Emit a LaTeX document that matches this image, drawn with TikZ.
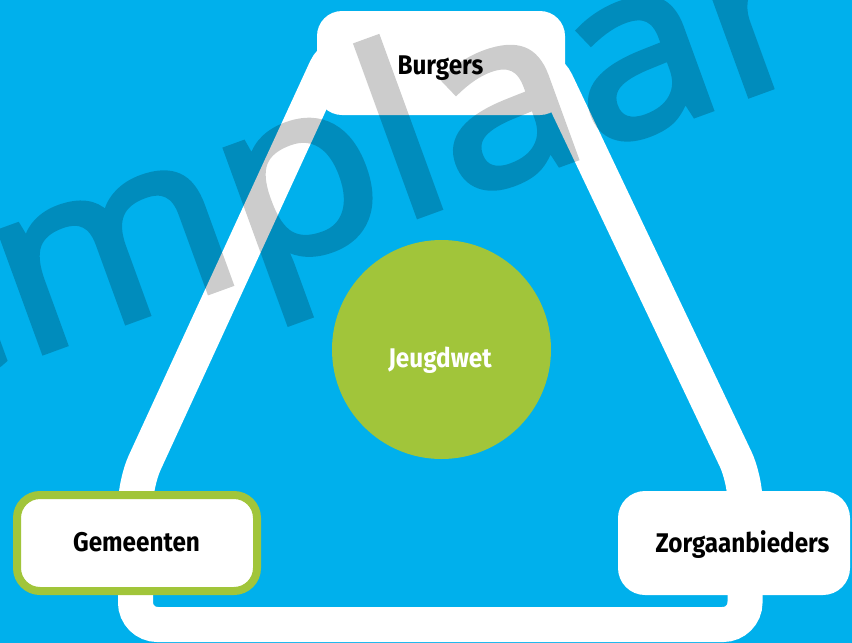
\documentclass[tikz,border=0pt]{standalone}
\usepackage{fontspec}
\newfontfamily\labelfont{Fira Sans}[FakeStretch=0.9]
\newfontfamily\wmfont{Open Sans}[FakeBold=3, FakeStretch=1.09]
\definecolor{bgblue}{RGB}{0,176,236}
\definecolor{jgreen}{RGB}{161,197,58}
\tikzset{
  labeltext/.style={anchor=base, inner sep=0pt, font=\labelfont\bfseries\fontsize{27}{30}\selectfont},
  whitebox/.style={fill=white, inner sep=0pt},
}
\begin{document}
\begin{tikzpicture}[x=1pt,y=-1pt]
\useasboundingbox (0,0) rectangle (852,643);
\clip (0,0) rectangle (852,643);
\fill[bgblue] (0,0) rectangle (852,643);
% white trapezoid
\draw[white, line width=35pt, rounded corners=22pt]
  (335,49) -- (135.5,482.6) -- (135.5,624.5) -- (745,624.5) -- (745,478.8) -- (547,62.4) -- cycle;
% boxes
\node[whitebox, rounded corners=25pt, minimum width=248pt, minimum height=104pt] (burgers) at (441,63) {};
\node[whitebox, draw=jgreen, line width=8pt, rounded corners=23pt, minimum width=240pt, minimum height=96pt] (gemeenten) at (137,543) {};
\node[whitebox, rounded corners=27pt, minimum width=232pt, minimum height=104pt] (zorg) at (734,543) {};
\node[circle, fill=jgreen, inner sep=0pt, minimum size=219pt] (jeugd) at (441.5,349.5) {};
% labels
\node[labeltext] (burgersT) at (440.5,74) {Burgers};
\node[labeltext] (gemeentenT) at (136.5,551) {Gemeenten};
\node[labeltext] (zorgT) at (742.5,552) {Zorgaanbieders};
\node[labeltext, text=white] (jeugdT) at (440,367) {Jeugdwet};
% watermark
\begin{scope}[transparency group, opacity=0.2]
\node[anchor=base west, rotate=20, inner sep=0pt, text=black] (wm) at (-370,502)
  {\wmfont\fontsize{237}{240}\selectfont Exemplaar};
\end{scope}
\end{tikzpicture}
\end{document}
